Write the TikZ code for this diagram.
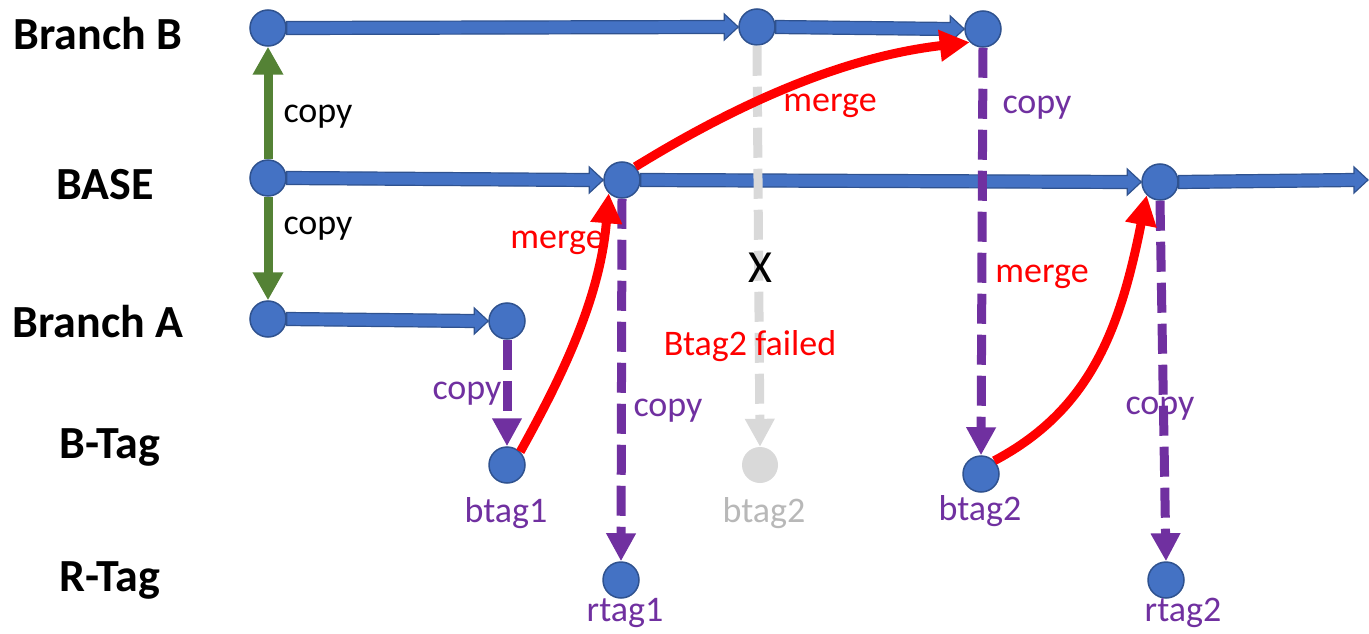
\documentclass[tikz,border=0pt]{standalone}
\usepackage{fontspec}
\setmainfont{Carlito}
\usetikzlibrary{arrows.meta,calc}
\pgfdeclarelayer{background}
\pgfsetlayers{background,main}
\definecolor{nodeblue}{HTML}{4472C4}
\definecolor{edgeblue}{HTML}{2F528F}
\definecolor{copygreen}{HTML}{548235}
\definecolor{copypurple}{HTML}{7030A0}
\definecolor{failgray}{HTML}{D9D9D9}
\definecolor{mergered}{HTML}{FF0000}
\newcommand\blkarrow[2]{%
  \fill[nodeblue,draw=edgeblue,line width=1.2pt]
    ($#1+(0,6.5)$) -- ($#2+(-14,6.5)$) -- ($#2+(-14,13)$) -- #2 --
    ($#2+(-14,-13)$) -- ($#2+(-14,-6.5)$) -- ($#1+(0,-6.5)$) -- cycle;}
\tikzset{
  commit/.style={circle,fill=nodeblue,draw=edgeblue,line width=1.5pt,minimum size=36pt,inner sep=0pt},
  grayc/.style={circle,fill=failgray,minimum size=36pt,inner sep=0pt},
  rowlabel/.style={font=\fontsize{46}{50}\selectfont\bfseries,text=black},
  lbl/.style={font=\fontsize{36}{40}\selectfont,inner sep=0pt},
  greenarr/.style={draw=copygreen,line width=9pt,-{Triangle[width=29pt,length=28pt]}},
  purplearr/.style={draw=copypurple,line width=9pt,dash pattern=on 30pt off 11pt,-{Triangle[width=28pt,length=28pt]}},
  grayarr/.style={draw=failgray,line width=9pt,dash pattern=on 30pt off 11pt,-{Triangle[width=28pt,length=28pt]}},
  redarr/.style={draw=mergered,line width=9pt,-{Triangle[width=30pt,length=30pt]}},
}
\begin{document}
\begin{tikzpicture}[x=1pt,y=-1pt]
\useasboundingbox (0,0) rectangle (1369,634);
% row labels
\node[rowlabel] (lBB) at (98,34) {Branch B};
\node[rowlabel] (lBASE) at (105,185) {BASE};
\node[rowlabel] (lBA) at (98,322) {Branch A};
\node[rowlabel] (lBT) at (110,447) {B-Tag};
\node[rowlabel] (lRT) at (110,580) {R-Tag};
% commits
\node[commit] (bb1) at (268,28) {};
\node[commit] (bb2) at (757,27) {};
\node[commit] (bb3) at (983,29) {};
\node[commit] (base1) at (268,178) {};
\node[commit] (base2) at (622,180) {};
\node[commit] (base3) at (1160,182) {};
\coordinate (baseend) at (1368,180);
\node[commit] (ba1) at (268,319) {};
\node[commit] (ba2) at (507,321) {};
\node[commit] (btag1) at (507,465) {};
\node[grayc] (gbtag2) at (760,465) {};
\node[commit] (btag2) at (981,474) {};
\node[commit] (rtag1) at (621,580) {};
\node[commit] (rtag2) at (1166,580) {};
% block arrows
\begin{pgfonlayer}{background}
\blkarrow{(bb1.east)}{(bb2.west)}
\blkarrow{(bb2.east)}{(bb3.west)}
\blkarrow{(base1.east)}{(base2.west)}
\blkarrow{(base2.east)}{(base3.west)}
\blkarrow{(base3.east)}{(baseend)}
\blkarrow{(ba1.east)}{(ba2.west)}
\draw[greenarr] (base1.north) -- (bb1.south);
\draw[greenarr] (base1.south) -- (ba1.north);
\end{pgfonlayer}
% copy arrows
\draw[grayarr] (bb2.south) -- (gbtag2.north);
\draw[purplearr] (ba2.south) -- (btag1.north);
\draw[purplearr] (base2.south) -- (rtag1.north);
\draw[purplearr] (bb3.south) -- (btag2.north);
\draw[purplearr] (base3.south) -- (rtag2.north);
% merges
\draw[redarr] (btag1.north east) .. controls (560,380) and (600,300) .. (base2.south west);
\draw[redarr] (base2.north east) .. controls (760,90) and (860,55) .. (bb3.south west);
\draw[redarr] (btag2.north east) .. controls (1090,410) and (1120,330) .. (base3.south west);
% labels
\node[lbl] (c1) at (318,117) {copy};
\node[lbl] (c2) at (318,229) {copy};
\node[lbl,text=mergered] (m1) at (830,106) {merge};
\node[lbl,text=mergered] (m2) at (557,243) {merge};
\node[lbl,text=mergered] (m3) at (1042,277) {merge};
\node[lbl,text=copypurple] (c3) at (467,394) {copy};
\node[lbl,text=copypurple] (c4) at (668,411) {copy};
\node[lbl,text=copypurple] (c5) at (1037,108) {copy};
\node[lbl,text=copypurple] (c6) at (1160,409) {copy};
\node[lbl,font=\fontsize{46}{50}\selectfont] (x) at (760,268) {X};
\node[lbl,text=mergered] (fail) at (750,346) {Btag2 failed};
\node[lbl,text=copypurple] (t1) at (506,513) {btag1};
\node[lbl,text=failgray!85!black] (t2) at (764,513) {btag2};
\node[lbl,text=copypurple] (t3) at (980,511) {btag2};
\node[lbl,text=copypurple] (t4) at (625,613) {rtag1};
\node[lbl,text=copypurple] (t5) at (1183,613) {rtag2};
\end{tikzpicture}
\end{document}
